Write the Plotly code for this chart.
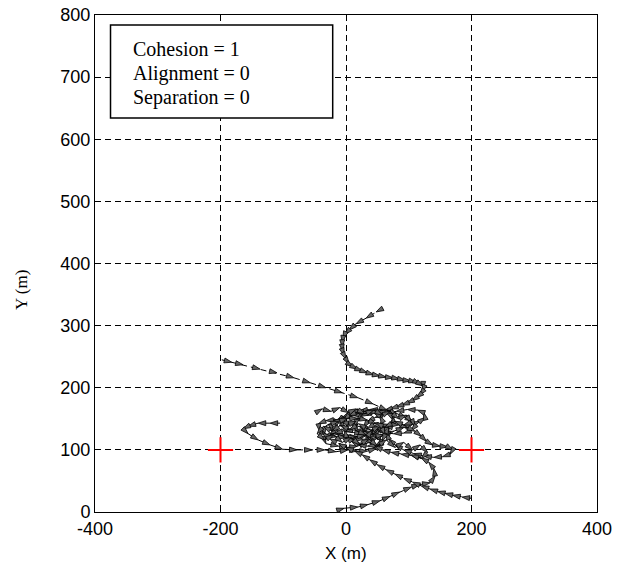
import plotly.graph_objects as go

# ---- data (metres) ----
agent1_x = [59, 48, 32, 16, 5, -2, -5, -6, -6, -5, -3, 0, 5, 11, 18, 26, 34, 44, 54, 64, 75, 85, 94, 103, 112, 118, 123, 123, 121, 117, 112, 105, 97, 89, 80, 71, 62,
            45, 28, 12, -3, -16, -24, -22, -12, 2, 18, 34, 50, 64, 74, 76, 68, 54, 38, 22, 8, -5, -14, -17, -12, -2, 12, 28, 44, 60, 76, 92, 106, 118, 126, 124, 114, 98, 80, 62, 46, 34, 28, 30, 38]
agent1_y = [328, 322, 312, 303, 293, 286, 279, 272, 265, 258, 252, 246, 238, 234, 230, 227, 224, 221, 219, 217, 216, 214, 212, 211, 209, 206, 203, 198, 193, 188, 184, 179, 175, 172, 169, 166, 164,
            160, 157, 155, 152, 147, 139, 130, 124, 121, 121, 124, 129, 136, 144, 153, 160, 164, 165, 163, 159, 153, 145, 136, 128, 122, 118, 117, 119, 124, 130, 136, 141, 146, 152, 160, 164, 165, 162, 158, 152, 145, 136, 127, 120]

agent2_x = [-198, -182, -164, -137, -110, -83, -57, -32, -6, 19, 43, 65,
            82, 96, 106, 110, 104, 92, 76, 58, 40, 22, 6, -8, -20, -32, -44, -42, -30, -14, 0, 16, 30, 44, 54, 58, 54, 44, 30, 16, 4, -4, -6, 0, 12, 26, 40, 52, 62]
agent2_y = [245, 241, 237, 230, 224, 216, 208, 200, 192, 184, 174, 164,
            158, 152, 146, 138, 131, 127, 126, 128, 132, 137, 142, 146, 148, 147, 142, 130, 124, 121, 120, 121, 124, 130, 138, 147, 155, 160, 162, 160, 155, 148, 140, 133, 128, 126, 128, 133, 140]

agent3_x = [-105, -121, -140, -156, -164, -156, -140, -121, -101, -78, -54, -34, -16, 3,
            18, 34, 48, 56, 54, 44, 30, 14, -2, -18, -36, -32, -12, 2, 18, 34, 48, 60, 70, 76, 74, 64, 50, 36, 24, 16, 14, 20, 32, 46, 60, 72]
agent3_y = [143, 143, 143, 138, 134, 126, 116, 108, 101, 100, 100, 100, 97, 100,
            98, 98, 102, 110, 119, 126, 130, 132, 131, 127, 120, 110, 106, 104, 106, 111, 118, 126, 135, 145, 154, 160, 162, 160, 154, 146, 137, 129, 124, 122, 124, 129]

agent4_x = [-13, -3, 19, 35, 54, 70, 85, 104, 117, 134, 142, 140, 132, 120, 104, 88, 72, 58, 46, 38, 36, 42, 54, 68, 84, 98, 110, 120, 128, 138, 150, 162, 170, 166, 154, 140, 124, 108, 92, 78, 68, 64, 68]
agent4_y = [3, 6, 8, 12, 18, 25, 32, 40, 44, 47, 58, 70, 80, 87, 91, 93, 96, 100, 106, 114, 124, 132, 138, 141, 140, 136, 130, 122, 114, 108, 106, 105, 100, 93, 89, 88, 90, 94, 100, 108, 118, 128, 138]

agent5_x = [200, 185, 170, 158, 146, 134, 120, 106, 92, 78, 64, 50, 38, 26, 14, 0, -12, -26, -38, -30, -12, 2, 18, 34, 48, 58, 62, 58, 48, 34, 20, 8, 0, -2, 4, 16]
agent5_y = [22, 24, 27, 30, 33, 37, 42, 48, 54, 61, 68, 76, 84, 92, 98, 104, 110, 118, 128, 140, 146, 150, 151, 148, 142, 134, 124, 114, 108, 106, 108, 114, 122, 132, 141, 146]

agent6_x = [-48, -38, -24, -10, 4, 16, 30, 44, 58, 70, 84, 96, 104, 92, 78, 62, 48, 34, 20, 6, -8, -22, -36, -46, -34, -20, -6, 8, 22, 36, 50, 64, 78, 92, 106, 118, 130, 120, 104]
agent6_y = [160, 166, 162, 168, 160, 166, 158, 164, 156, 162, 150, 156, 144, 140, 146, 136, 144, 134, 142, 132, 140, 130, 138, 126, 116, 124, 112, 120, 108, 118, 106, 116, 104, 112, 100, 108, 96, 86, 92]

target_x = [-200, 200]
target_y = [100, 100]

x_ticks = [-400, -200, 0, 200, 400]
y_ticks = [0, 100, 200, 300, 400, 500, 600, 700, 800]

labels = ["Cohesion = 1", "Alignment = 0", "Separation = 0"]

fig = go.Figure()

for xs, ys in [(agent1_x, agent1_y), (agent2_x, agent2_y), (agent3_x, agent3_y),
               (agent4_x, agent4_y), (agent5_x, agent5_y), (agent6_x, agent6_y)]:
    fig.add_trace(go.Scatter(
        x=xs, y=ys, mode="lines+markers",
        line=dict(color="black", width=1, dash="6px,4px"),
        marker=dict(symbol="arrow", size=8, angleref="previous", color="#666666",
                    line=dict(color="black", width=0.8)),
        showlegend=False, hoverinfo="skip"))

fig.add_trace(go.Scatter(
    x=target_x, y=target_y, mode="markers",
    marker=dict(symbol="cross-thin", size=18, line=dict(color="red", width=2)),
    showlegend=False, hoverinfo="skip"))

axis_common = dict(
    showline=True, linecolor="black", linewidth=1, mirror="ticks",
    ticks="inside", ticklen=5, tickcolor="black",
    showgrid=True, gridcolor="black", gridwidth=1, griddash="6px,4px",
    zeroline=False, automargin=False, ticklabeloverflow="allow",
    tickfont=dict(family="Liberation Sans, Arial", size=18, color="black"),
)

# the page adds an 8 px body margin, so margins are chosen to land the
# plot area at the reference position inside the 621x569 window
fig.update_layout(
    width=613, height=561,
    margin=dict(l=87, r=24, t=7, b=57),
    plot_bgcolor="white", paper_bgcolor="white",
    xaxis=dict(range=[-400, 400], tickvals=x_ticks, ticktext=[str(v) for v in x_ticks],
               **axis_common),
    yaxis=dict(range=[0, 800], tickvals=y_ticks, ticktext=[str(v) for v in y_ticks],
               **axis_common),
)

# axis titles (X sans, Y serif, as in the reference)
fig.add_annotation(text="X (m)", xref="paper", yref="paper", x=0.5, y=-0.0825,
                   showarrow=False, xanchor="center", yanchor="middle",
                   font=dict(family="Liberation Sans, Arial", size=17, color="black"))
fig.add_annotation(text="Y (m)", xref="paper", yref="paper", x=-0.145, y=0.447,
                   textangle=-90, showarrow=False, xanchor="center", yanchor="middle",
                   font=dict(family="Liberation Serif, Times New Roman", size=17, color="black"))

# text box
fig.add_shape(type="rect", xref="paper", yref="paper",
              x0=0.0309, x1=0.4735, y0=0.7928, y1=0.9799,
              line=dict(color="black", width=1.5), fillcolor="white", layer="above")
for i, t in enumerate(labels):
    fig.add_annotation(text=t, xref="paper", yref="paper", x=0.0717,
                       y=[0.9306, 0.8813, 0.8330][i], xanchor="left", yanchor="middle",
                       showarrow=False,
                       font=dict(family="Liberation Serif, Times New Roman", size=20, color="black"))

fig.write_html("out.html")
